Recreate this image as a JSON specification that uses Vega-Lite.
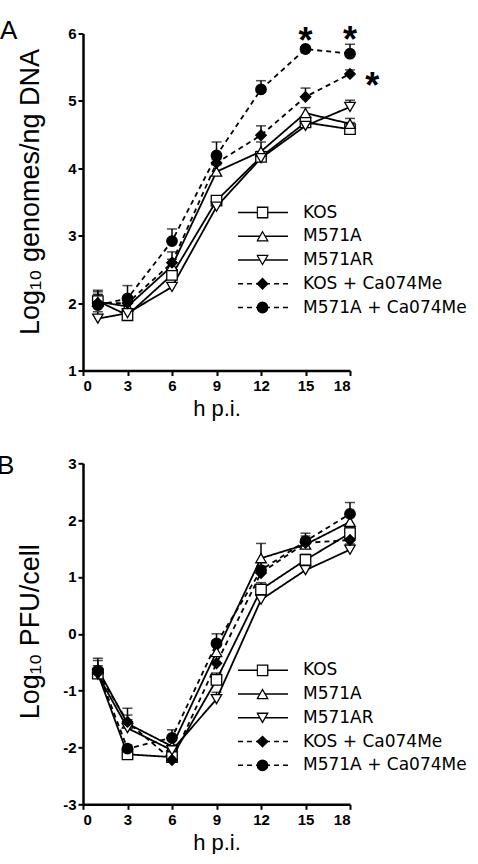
{
  "$schema": "https://vega.github.io/schema/vega-lite/v6.json",
  "background": "white",
  "padding": {"left": -3, "top": 17.5, "right": 0, "bottom": 0},
  "config": {
    "view": {"stroke": null},
    "font": "Liberation Sans",
    "axis": {"domainColor": "black", "domainWidth": 2.5, "tickColor": "black", "tickWidth": 2, "tickSize": 5, "labelFont": "Liberation Sans", "labelFontWeight": "bold", "labelFontSize": 15, "labelColor": "black", "labelPadding": 2, "titleFont": "Liberation Sans", "titleFontWeight": "normal", "titleColor": "black", "grid": false},
    "title": {"fontWeight": "normal", "fontSize": 26, "color": "black", "font": "Liberation Sans"}
  },
  "datasets": {
    "genomes": [
      {"series": "KOS", "t": 1, "v": 2.03, "hi": 2.13},
      {"series": "KOS", "t": 3, "v": 1.82, "hi": 1.87},
      {"series": "KOS", "t": 6, "v": 2.42, "hi": 2.50},
      {"series": "KOS", "t": 9, "v": 3.52, "hi": 3.57},
      {"series": "KOS", "t": 12, "v": 4.17, "hi": 4.25},
      {"series": "KOS", "t": 15, "v": 4.68, "hi": 4.73},
      {"series": "KOS", "t": 18, "v": 4.58, "hi": 4.68},
      {"series": "M571A", "t": 1, "v": 2.02, "hi": 2.12},
      {"series": "M571A", "t": 3, "v": 1.95, "hi": 2.03},
      {"series": "M571A", "t": 6, "v": 2.55, "hi": 2.65},
      {"series": "M571A", "t": 9, "v": 3.95, "hi": 4.05},
      {"series": "M571A", "t": 12, "v": 4.25, "hi": 4.39},
      {"series": "M571A", "t": 15, "v": 4.82, "hi": 4.90},
      {"series": "M571A", "t": 18, "v": 4.66, "hi": 4.74},
      {"series": "M571AR", "t": 1, "v": 1.77, "hi": 1.87},
      {"series": "M571AR", "t": 3, "v": 1.85, "hi": 1.91},
      {"series": "M571AR", "t": 6, "v": 2.24, "hi": 2.30},
      {"series": "M571AR", "t": 9, "v": 3.43, "hi": 3.49},
      {"series": "M571AR", "t": 12, "v": 4.15, "hi": 4.21},
      {"series": "M571AR", "t": 15, "v": 4.63, "hi": 4.69},
      {"series": "M571AR", "t": 18, "v": 4.91, "hi": 5.01},
      {"series": "KOS + Ca074Me", "t": 1, "v": 2.00, "hi": 2.17},
      {"series": "KOS + Ca074Me", "t": 3, "v": 2.00, "hi": 2.10},
      {"series": "KOS + Ca074Me", "t": 6, "v": 2.60, "hi": 2.76},
      {"series": "KOS + Ca074Me", "t": 9, "v": 4.08, "hi": 4.13},
      {"series": "KOS + Ca074Me", "t": 12, "v": 4.49, "hi": 4.63},
      {"series": "KOS + Ca074Me", "t": 15, "v": 5.06, "hi": 5.19},
      {"series": "KOS + Ca074Me", "t": 18, "v": 5.40, "hi": 5.46},
      {"series": "M571A + Ca074Me", "t": 1, "v": 1.97, "hi": 2.19},
      {"series": "M571A + Ca074Me", "t": 3, "v": 2.07, "hi": 2.26},
      {"series": "M571A + Ca074Me", "t": 6, "v": 2.92, "hi": 3.10},
      {"series": "M571A + Ca074Me", "t": 9, "v": 4.19, "hi": 4.39},
      {"series": "M571A + Ca074Me", "t": 12, "v": 5.17, "hi": 5.30},
      {"series": "M571A + Ca074Me", "t": 15, "v": 5.77, "hi": 5.80},
      {"series": "M571A + Ca074Me", "t": 18, "v": 5.70, "hi": 5.84}
    ],
    "pfu": [
      {"series": "KOS", "t": 1, "v": -0.70, "hi": -0.60},
      {"series": "KOS", "t": 3, "v": -2.12, "hi": -2.07},
      {"series": "KOS", "t": 6, "v": -2.17, "hi": -2.07},
      {"series": "KOS", "t": 9, "v": -0.81, "hi": -0.69},
      {"series": "KOS", "t": 12, "v": 0.78, "hi": 0.90},
      {"series": "KOS", "t": 15, "v": 1.30, "hi": 1.40},
      {"series": "KOS", "t": 18, "v": 1.77, "hi": 1.87},
      {"series": "M571A", "t": 1, "v": -0.62, "hi": -0.47},
      {"series": "M571A", "t": 3, "v": -1.58, "hi": -1.31},
      {"series": "M571A", "t": 6, "v": -1.98, "hi": -1.83},
      {"series": "M571A", "t": 9, "v": -0.32, "hi": -0.12},
      {"series": "M571A", "t": 12, "v": 1.33, "hi": 1.59},
      {"series": "M571A", "t": 15, "v": 1.57, "hi": 1.67},
      {"series": "M571A", "t": 18, "v": 1.97, "hi": 2.09},
      {"series": "M571AR", "t": 1, "v": -0.72, "hi": -0.62},
      {"series": "M571AR", "t": 3, "v": -1.66, "hi": -1.51},
      {"series": "M571AR", "t": 6, "v": -2.05, "hi": -1.95},
      {"series": "M571AR", "t": 9, "v": -1.15, "hi": -1.03},
      {"series": "M571AR", "t": 12, "v": 0.60, "hi": 0.70},
      {"series": "M571AR", "t": 15, "v": 1.12, "hi": 1.22},
      {"series": "M571AR", "t": 18, "v": 1.48, "hi": 1.58},
      {"series": "KOS + Ca074Me", "t": 1, "v": -0.68, "hi": -0.56},
      {"series": "KOS + Ca074Me", "t": 3, "v": -1.55, "hi": -1.43},
      {"series": "KOS + Ca074Me", "t": 6, "v": -2.22, "hi": -2.12},
      {"series": "KOS + Ca074Me", "t": 9, "v": -0.52, "hi": -0.37},
      {"series": "KOS + Ca074Me", "t": 12, "v": 1.07, "hi": 1.19},
      {"series": "KOS + Ca074Me", "t": 15, "v": 1.60, "hi": 1.72},
      {"series": "KOS + Ca074Me", "t": 18, "v": 1.65, "hi": 1.75},
      {"series": "M571A + Ca074Me", "t": 1, "v": -0.65, "hi": -0.43},
      {"series": "M571A + Ca074Me", "t": 3, "v": -2.02, "hi": -1.96},
      {"series": "M571A + Ca074Me", "t": 6, "v": -1.83, "hi": -1.69},
      {"series": "M571A + Ca074Me", "t": 9, "v": -0.17, "hi": 0.00},
      {"series": "M571A + Ca074Me", "t": 12, "v": 1.12, "hi": 1.27},
      {"series": "M571A + Ca074Me", "t": 15, "v": 1.63, "hi": 1.77},
      {"series": "M571A + Ca074Me", "t": 18, "v": 2.11, "hi": 2.31}
    ]
  },
  "vconcat": [
    {
      "width": 267,
      "height": 337,
      "title": {"text": "A", "anchor": "start", "frame": "group", "dx": -83, "offset": -21.5},
      "data": {"name": "genomes"},
      "layer": [
        {
          "mark": {"type": "rule", "color": "black", "strokeWidth": 1.5},
          "encoding": {
            "x": {"field": "t", "type": "quantitative", "scale": {"domain": [0, 18], "nice": false, "zero": false}, "axis": {"values": [0, 3, 6, 9, 12, 15, 18], "title": "h p.i.", "titleFontSize": 22, "titlePadding": 5, "labelPadding": 3}},
            "y": {"field": "v", "type": "quantitative", "scale": {"domain": [1, 6], "nice": false, "zero": false}, "axis": {"values": [1, 2, 3, 4, 5, 6], "format": "d", "title": "Log₁₀ genomes/ng DNA", "titleFontSize": 27, "titleX": -45, "titleY": 158, "titleBaseline": "alphabetic"}},
            "y2": {"field": "hi"}
          }
        },
        {
          "mark": {"type": "tick", "orient": "horizontal", "color": "black", "thickness": 1.5, "size": 10},
          "encoding": {
            "x": {"field": "t", "type": "quantitative"},
            "y": {"field": "hi", "type": "quantitative"}
          }
        },
        {
          "mark": {"type": "line", "color": "black", "strokeWidth": 1.8},
          "encoding": {
            "x": {"field": "t", "type": "quantitative"},
            "y": {"field": "v", "type": "quantitative"},
            "strokeDash": {"field": "series", "type": "nominal", "sort": ["KOS", "M571A", "M571AR", "KOS + Ca074Me", "M571A + Ca074Me"], "scale": {"range": [[1, 0], [1, 0], [1, 0], [5, 4], [5, 4]]},
              "legend": {"orient": "none", "legendX": 154, "legendY": 169, "title": null, "symbolType": "stroke", "symbolSize": 2500, "symbolStrokeColor": "black", "symbolStrokeWidth": 1.5, "labelFontSize": 17, "labelColor": "black", "labelFont": "DejaVu Sans", "labelOffset": 14, "labelLimit": 400, "clipHeight": 20, "rowPadding": 3.75, "padding": 0}}
          }
        },
        {
          "mark": {"type": "point", "filled": true, "stroke": "black", "strokeWidth": 1.3, "size": 110, "opacity": 1},
          "encoding": {
            "x": {"field": "t", "type": "quantitative"},
            "y": {"field": "v", "type": "quantitative"},
            "shape": {"field": "series", "type": "nominal", "scale": {"domain": ["KOS", "M571A", "M571AR", "KOS + Ca074Me", "M571A + Ca074Me"], "range": ["square", "triangle-up", "triangle-down", "diamond", "circle"]},
              "legend": {"orient": "none", "legendX": 173.5, "legendY": 169, "title": null, "symbolSize": 110, "symbolStrokeWidth": 1.3, "labelExpr": "''", "clipHeight": 20, "rowPadding": 3.75, "padding": 0}},
            "fill": {"field": "series", "type": "nominal", "scale": {"domain": ["KOS", "M571A", "M571AR", "KOS + Ca074Me", "M571A + Ca074Me"], "range": ["white", "white", "white", "black", "black"]},
              "legend": {"orient": "none", "legendX": 173.5, "legendY": 169, "title": null, "symbolSize": 110, "symbolStrokeWidth": 1.3, "labelExpr": "''", "clipHeight": 20, "rowPadding": 3.75, "padding": 0}}
          }
        },
        {
          "data": {"values": [{"t": 15, "v": 6.02, "label": "*"}, {"t": 18, "v": 6.04, "label": "*"}, {"t": 19.5, "v": 5.36, "label": "*"}]},
          "mark": {"type": "text", "fontSize": 36, "fontWeight": "bold", "baseline": "middle", "color": "black", "dy": 10},
          "encoding": {
            "x": {"field": "t", "type": "quantitative"},
            "y": {"field": "v", "type": "quantitative"},
            "text": {"field": "label"}
          }
        }
      ]
    },
    {
      "width": 267,
      "height": 341,
      "title": {"text": "B", "anchor": "start", "frame": "group", "dx": -86, "offset": -22.7},
      "data": {"name": "pfu"},
      "layer": [
        {
          "mark": {"type": "rule", "color": "black", "strokeWidth": 1.5},
          "encoding": {
            "x": {"field": "t", "type": "quantitative", "scale": {"domain": [0, 18], "nice": false, "zero": false}, "axis": {"values": [0, 3, 6, 9, 12, 15, 18], "title": "h p.i.", "titleFontSize": 22, "titlePadding": 5, "labelPadding": 3}},
            "y": {"field": "v", "type": "quantitative", "scale": {"domain": [-3, 3], "nice": false, "zero": false}, "axis": {"values": [-3, -2, -1, 0, 1, 2, 3], "labelExpr": "datum.value", "title": "Log₁₀ PFU/cell", "titleFontSize": 27, "titleX": -45, "titleY": 168, "titleBaseline": "alphabetic"}},
            "y2": {"field": "hi"}
          }
        },
        {
          "mark": {"type": "tick", "orient": "horizontal", "color": "black", "thickness": 1.5, "size": 10},
          "encoding": {
            "x": {"field": "t", "type": "quantitative"},
            "y": {"field": "hi", "type": "quantitative"}
          }
        },
        {
          "mark": {"type": "line", "color": "black", "strokeWidth": 1.8},
          "encoding": {
            "x": {"field": "t", "type": "quantitative"},
            "y": {"field": "v", "type": "quantitative"},
            "strokeDash": {"field": "series", "type": "nominal", "sort": ["KOS", "M571A", "M571AR", "KOS + Ca074Me", "M571A + Ca074Me"], "scale": {"range": [[1, 0], [1, 0], [1, 0], [5, 4], [5, 4]]},
              "legend": {"orient": "none", "legendX": 154, "legendY": 197, "title": null, "symbolType": "stroke", "symbolSize": 2500, "symbolStrokeColor": "black", "symbolStrokeWidth": 1.5, "labelFontSize": 17, "labelColor": "black", "labelFont": "DejaVu Sans", "labelOffset": 14, "labelLimit": 400, "clipHeight": 20, "rowPadding": 3.75, "padding": 0}}
          }
        },
        {
          "mark": {"type": "point", "filled": true, "stroke": "black", "strokeWidth": 1.3, "size": 110, "opacity": 1},
          "encoding": {
            "x": {"field": "t", "type": "quantitative"},
            "y": {"field": "v", "type": "quantitative"},
            "shape": {"field": "series", "type": "nominal", "scale": {"domain": ["KOS", "M571A", "M571AR", "KOS + Ca074Me", "M571A + Ca074Me"], "range": ["square", "triangle-up", "triangle-down", "diamond", "circle"]},
              "legend": {"orient": "none", "legendX": 173.5, "legendY": 197, "title": null, "symbolSize": 110, "symbolStrokeWidth": 1.3, "labelExpr": "''", "clipHeight": 20, "rowPadding": 3.75, "padding": 0}},
            "fill": {"field": "series", "type": "nominal", "scale": {"domain": ["KOS", "M571A", "M571AR", "KOS + Ca074Me", "M571A + Ca074Me"], "range": ["white", "white", "white", "black", "black"]},
              "legend": {"orient": "none", "legendX": 173.5, "legendY": 197, "title": null, "symbolSize": 110, "symbolStrokeWidth": 1.3, "labelExpr": "''", "clipHeight": 20, "rowPadding": 3.75, "padding": 0}}
          }
        }
      ]
    }
  ],
  "spacing": 32.8,
  "resolve": {
    "scale": {"shape": "independent", "fill": "independent", "strokeDash": "independent"},
    "legend": {"shape": "independent", "fill": "independent", "strokeDash": "independent"}
  }
}
